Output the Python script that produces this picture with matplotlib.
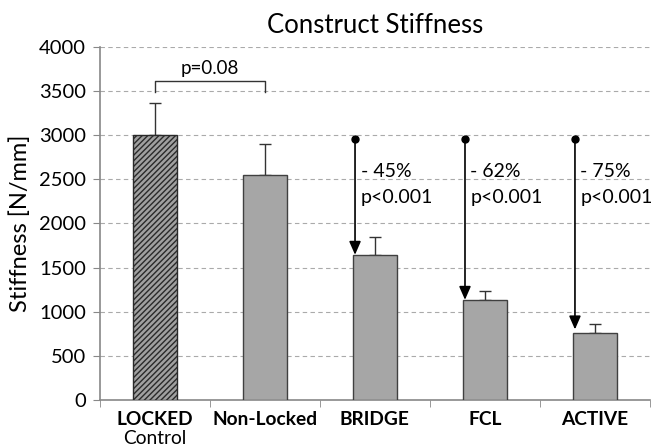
import matplotlib
matplotlib.use("Agg")
import matplotlib.pyplot as plt
import numpy as np

plt.rcParams['font.family'] = ['Lato', 'DejaVu Sans']
plt.rcParams['hatch.linewidth'] = 1.0

categories = ["LOCKED\nControl", "Non-Locked", "BRIDGE", "FCL", "ACTIVE"]
values = [3000, 2550, 1645, 1135, 760]
errors = [365, 355, 205, 100, 100]
reductions = ["- 45%", "- 62%", "- 75%"]
pvals = ["p<0.001", "p<0.001", "p<0.001"]
bracket_label = "p=0.08"
yticks = [0, 500, 1000, 1500, 2000, 2500, 3000, 3500, 4000]

fig = plt.figure(figsize=(6.53, 4.46), dpi=100)
ax = fig.add_axes([0.153, 0.103, 0.842, 0.792])
x = np.arange(len(categories))

for i, (v, e) in enumerate(zip(values, errors)):
    ax.errorbar(x[i], v, yerr=[[0], [e]], fmt='none', ecolor='#333333',
                elinewidth=1, capsize=4, capthick=1, zorder=2)
    if i == 0:
        ax.bar(x[i], v, width=0.4, color='#a0a0a0', edgecolor='#2a2a2a',
               hatch='//////', linewidth=1, zorder=3)
    else:
        ax.bar(x[i], v, width=0.4, color='#a6a6a6', edgecolor='#404040',
               linewidth=1, zorder=3)

ax.set_xlim(-0.5, 4.5)
ax.set_ylim(0, 4000)
ax.set_yticks(yticks)
ax.set_yticklabels([str(t) for t in yticks], fontsize=14.5)
ax.set_xticks(x)
ax.set_xticklabels([])
ax.set_xticks(np.arange(-0.5, 5.0, 1.0), minor=True)
ax.tick_params(axis='x', which='major', length=0, pad=8)
ax.tick_params(axis='x', which='minor', length=5, color='#888888')
ax.tick_params(axis='y', length=5, color='#888888', pad=5)

for yt in yticks[1:]:
    ax.axhline(yt, color='#aaaaaa', linestyle=(0, (4, 3)), linewidth=0.8, zorder=0)

for s in ['top', 'right']:
    ax.spines[s].set_visible(False)
for s in ['left', 'bottom']:
    ax.spines[s].set_color('#888888')
    ax.spines[s].set_linewidth(1.2)

# category labels
for i, c in enumerate(categories):
    if i == 0:
        ax.text(x[i], -215, "LOCKED", ha='center', va='center', fontsize=13.8,
                fontweight='bold', clip_on=False)
        ax.text(x[i], -440, "Control", ha='center', va='center', fontsize=13.8,
                clip_on=False)
    else:
        ax.text(x[i], -215, c, ha='center', va='center', fontsize=13.8,
                fontweight='bold', clip_on=False)

ax.set_ylabel("Stiffness [N/mm]", fontsize=17, labelpad=6)
ax.set_title("Construct Stiffness", fontsize=18.5, pad=10)

# bracket
by_top, by_bot = 3610, 3490
ax.plot([x[0], x[0], x[1], x[1]], [by_bot, by_top, by_top, by_bot],
        color='#333333', linewidth=1, zorder=4)
ax.text((x[0] + x[1]) / 2, by_top + 50, bracket_label, ha='center', va='bottom', fontsize=13.5)

# arrows
start = 2960
for k, i in enumerate([2, 3, 4]):
    xa = x[i] - 0.18
    tip = values[i] + (40 if i == 4 else 0)
    ax.plot([xa], [start], 'o', color='black', markersize=5, zorder=5)
    ax.annotate('', xy=(xa, tip), xytext=(xa, start),
                arrowprops=dict(arrowstyle='-|>,head_length=0.8,head_width=0.35',
                                color='black', lw=1.2, shrinkA=0, shrinkB=0), zorder=5)
    ax.text(xa + 0.05, 2590, reductions[k], ha='left', va='center', fontsize=14)
    ax.text(xa + 0.05, 2290, pvals[k], ha='left', va='center', fontsize=14)

fig.savefig("out.png", dpi=100)
